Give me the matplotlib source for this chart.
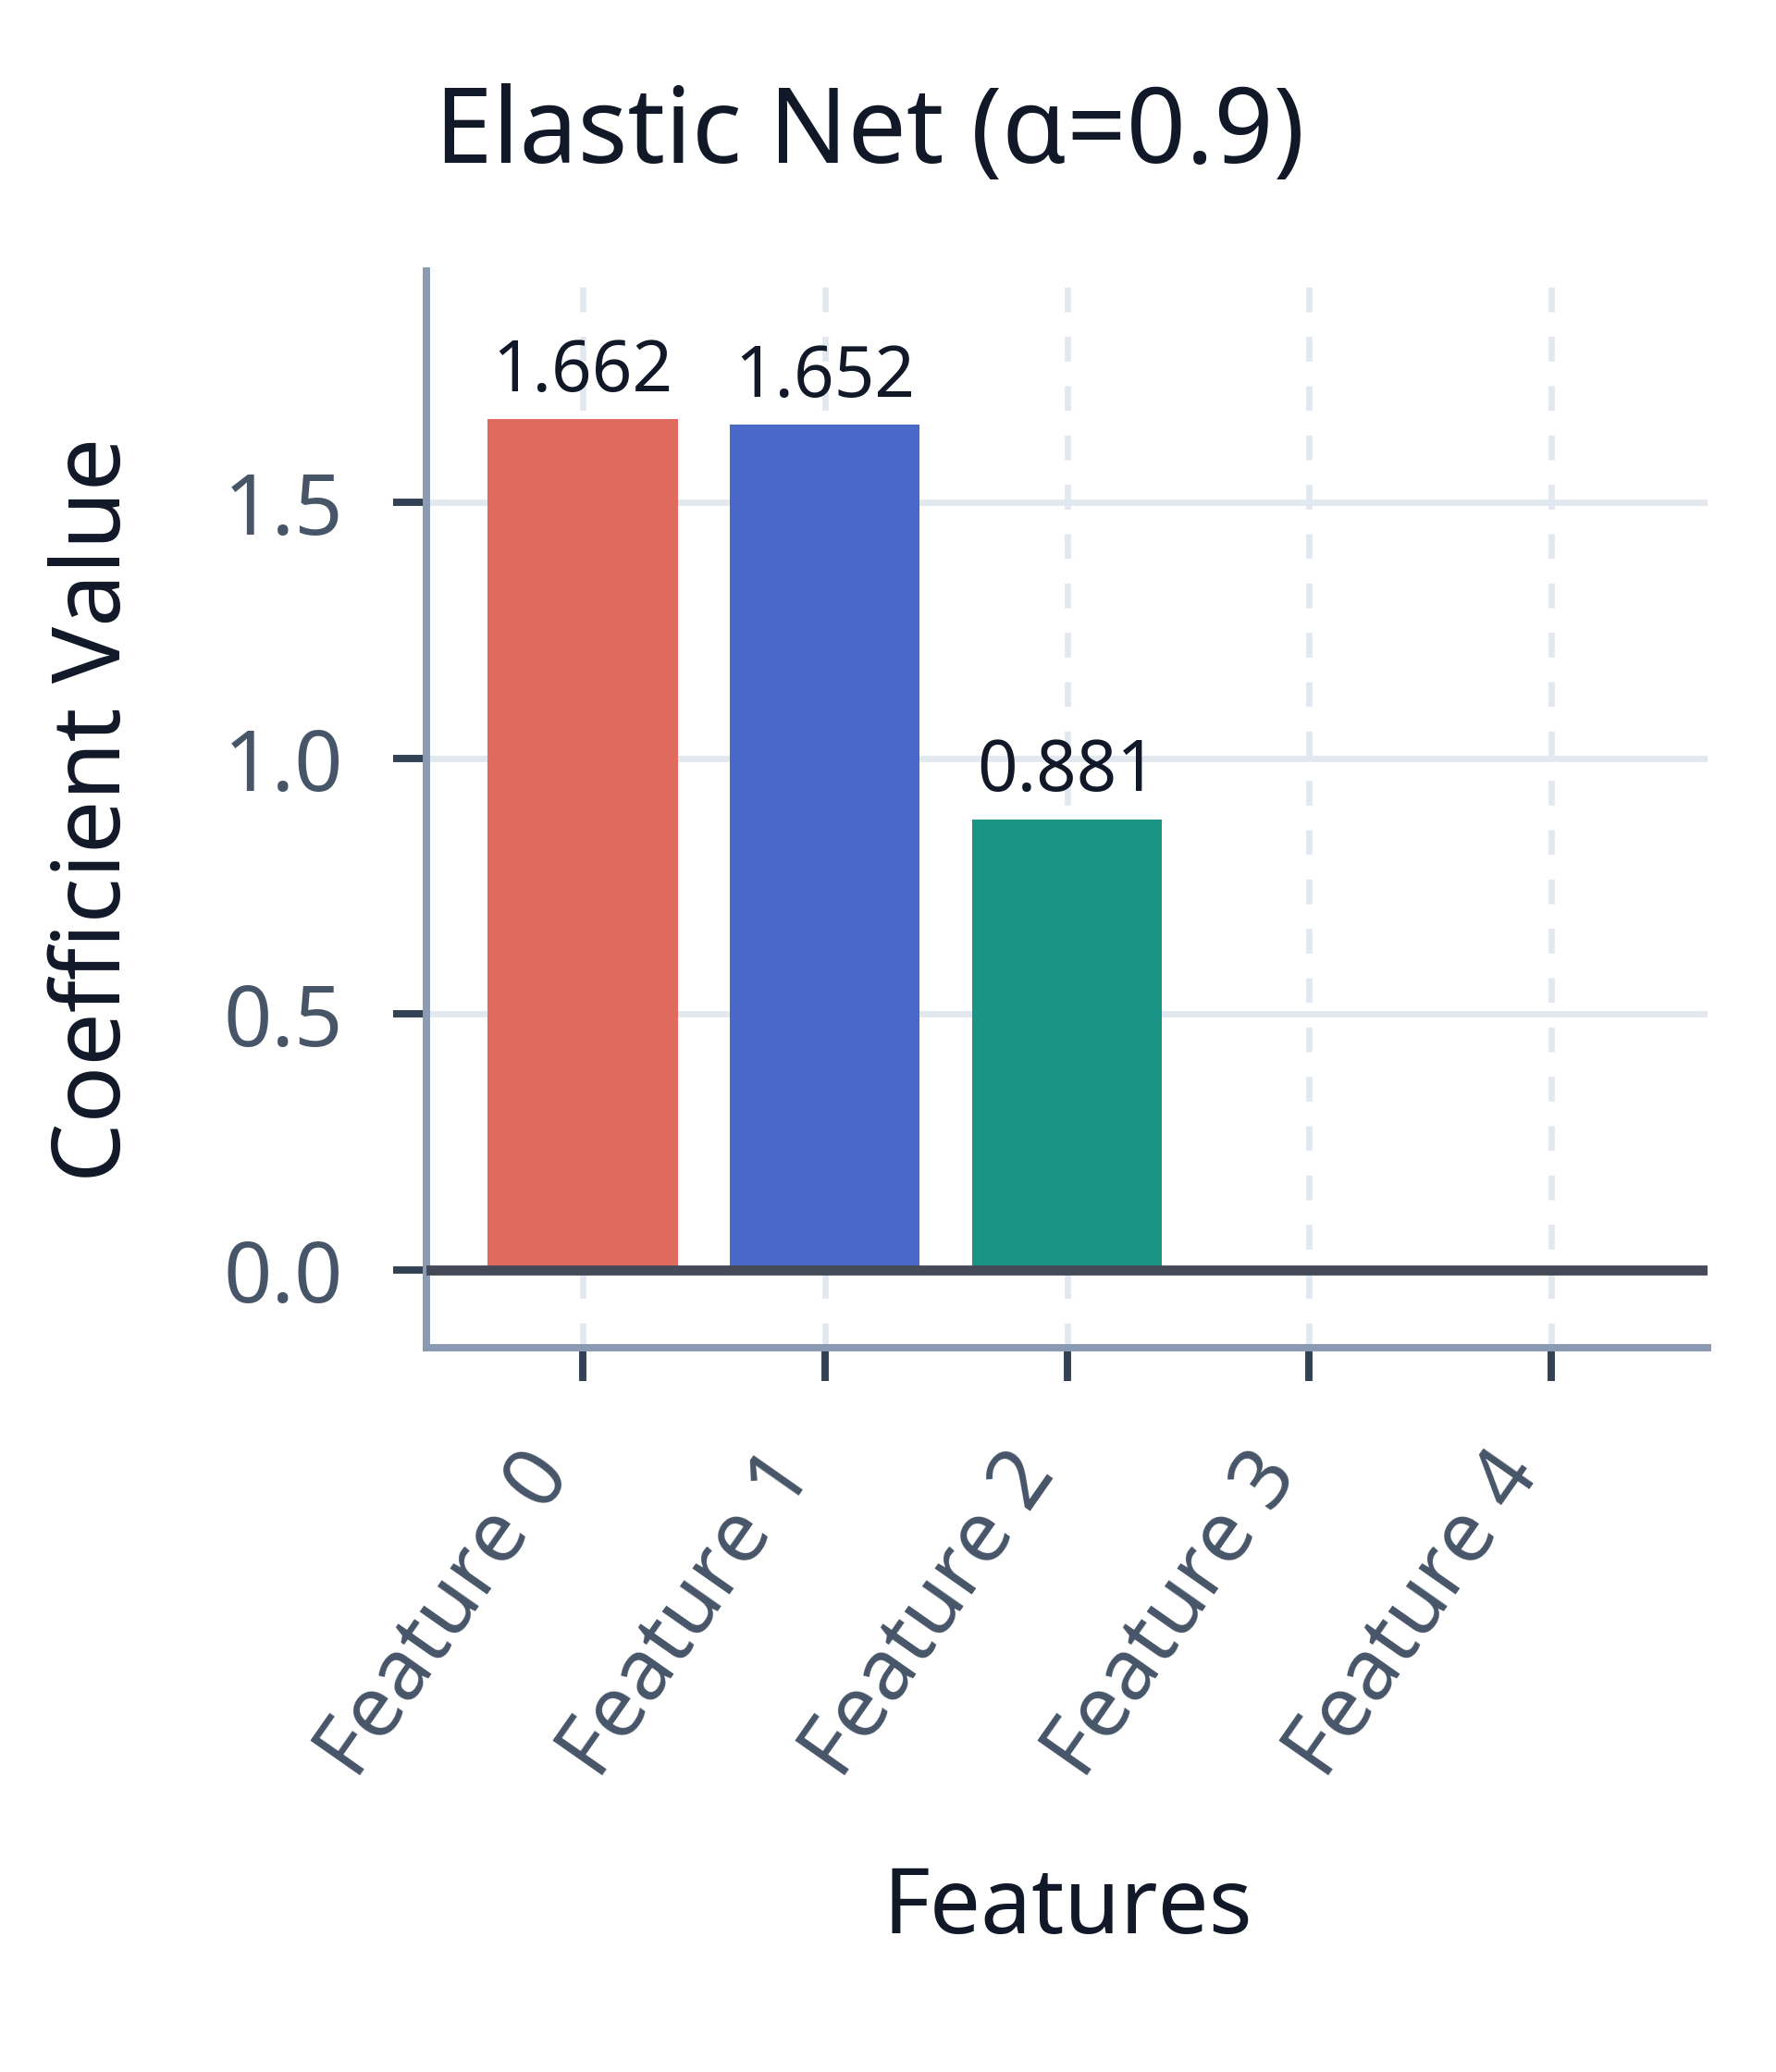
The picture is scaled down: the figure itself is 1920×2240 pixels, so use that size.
import numpy as np
import matplotlib.pyplot as plt
import matplotlib.transforms as mtransforms

# coefficient values
features = ["Feature 0", "Feature 1", "Feature 2", "Feature 3", "Feature 4"]
coefs = [1.662, 1.652, 0.881, 0.0, 0.0]
bar_colors = ["#e06a5e", "#4a68c8", "#1a9485", "#8e6bbf", "#e39b3a"]

title = "Elastic Net (\u03b1=0.9)"

plt.rcParams['font.family'] = ['Noto Sans', 'DejaVu Sans']

W, H = 1920, 2240
fig = plt.figure(figsize=(W / 300, H / 300), dpi=300)
# axes box in pixels: left 461, right 1846, top 293, bottom 1457
ax = fig.add_axes([461 / W, 1 - 1457 / H, (1846 - 461) / W, (1457 - 293) / H])

x = np.arange(len(features))
ax.bar(x, coefs, width=0.785, color=bar_colors, zorder=2)

# value labels above the non-zero bars
for xi, v in zip(x, coefs):
    if abs(v) > 1e-9:
        ax.text(xi, v + 0.055, f"{v:.3f}", ha="center", va="baseline",
                fontsize=18.3, color="#111827", zorder=4)

ax.axhline(0, color="#454a58", linewidth=2.6, zorder=3)

ax.set_xlim(-0.645, 4.645)
ax.set_ylim(-0.152, 1.952)
ax.set_xticks(x)
ax.set_xticklabels(features, rotation=55, ha="right", va="center",
                   rotation_mode="anchor")
ax.set_yticks([0.0, 0.5, 1.0, 1.5])
ax.set_yticklabels(["0.0", "0.5", "1.0", "1.5"])

ax.grid(axis="y", color="#e2e8f0", linewidth=1.6, zorder=0)
ax.grid(axis="x", color="#e2e8f0", linewidth=1.6, linestyle=(0, (4, 4)), zorder=0)
ax.set_axisbelow(True)

for side in ["top", "right"]:
    ax.spines[side].set_visible(False)
for side in ["left", "bottom"]:
    ax.spines[side].set_color("#8a9ab2")
    ax.spines[side].set_linewidth(1.9)

ax.tick_params(axis="both", length=8.6, width=1.9, color="#334155",
               labelsize=22, labelcolor="#475569")
ax.tick_params(axis="y", pad=13)
ax.tick_params(axis="x", pad=21)

# nudge the rotated labels a little to the left
shift = mtransforms.ScaledTranslation(-7.5 / 72, 0, fig.dpi_scale_trans)
for lab in ax.get_xticklabels():
    lab.set_transform(lab.get_transform() + shift)

# axis labels and title placed in figure pixels
fig.text(130 / W, 1 - 875 / H, "Coefficient Value", rotation=90,
         rotation_mode="anchor", ha="center", va="baseline",
         fontsize=24.5, color="#111827")
fig.text(1154 / W, 1 - 2090 / H, "Features", ha="center", va="baseline",
         fontsize=23.5, color="#111827")
fig.text(940 / W, 1 - 176 / H, title, ha="center", va="baseline",
         fontsize=27, color="#111827")

fig.savefig("out.png", dpi=300, facecolor="white")
